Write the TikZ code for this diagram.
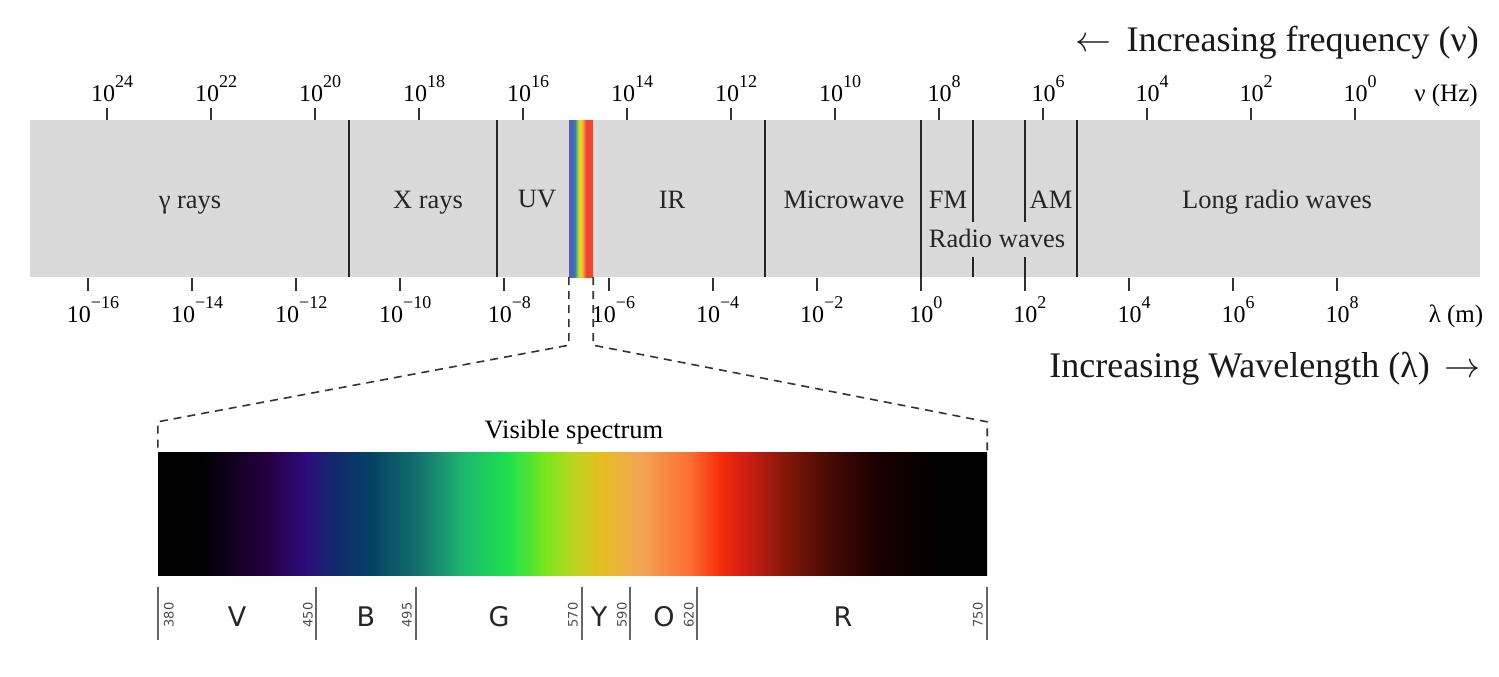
\documentclass[tikz,border=0pt]{standalone}
\usepackage{fix-cm}
\usepackage{fontspec}
\setmainfont{Liberation Serif}
\newfontfamily\visfont{DejaVu Sans}
\usepackage{tikz}
\usetikzlibrary{positioning}
\usepackage{xcolor}

\definecolor{bandgray}{RGB}{218,218,218}
% colours of the visible band
\definecolor{vsA}{RGB}{40,0,70}
\definecolor{vsB}{RGB}{45,12,125}
\definecolor{vsC}{RGB}{20,38,110}
\definecolor{vsD}{RGB}{5,65,100}
\definecolor{vsE}{RGB}{20,115,110}
\definecolor{vsF}{RGB}{30,185,110}
\definecolor{vsG}{RGB}{30,225,75}
\definecolor{vsH}{RGB}{120,230,30}
\definecolor{vsI}{RGB}{185,215,30}
\definecolor{vsJ}{RGB}{230,190,35}
\definecolor{vsK}{RGB}{242,165,85}
\definecolor{vsL}{RGB}{250,110,50}
\definecolor{vsM}{RGB}{245,45,10}
\definecolor{vsN}{RGB}{210,30,20}
\definecolor{vsO}{RGB}{140,25,10}
\definecolor{vsP}{RGB}{70,10,5}
\definecolor{vsQ}{RGB}{25,0,0}
% colours of the narrow strip
\definecolor{rbblue}{RGB}{85,95,180}
\definecolor{rbteal}{RGB}{40,140,170}
\definecolor{rbgreen}{RGB}{175,212,60}
\definecolor{rbyellow}{RGB}{245,215,50}
\definecolor{rborange}{RGB}{245,160,50}
\definecolor{rbred}{RGB}{235,70,50}

\pgfdeclarehorizontalshading{visible}{100bp}{%
  color(0bp)=(black); color(25bp)=(black); color(27.5bp)=(black);
  color(31.8bp)=(vsA); color(33.9bp)=(vsB); color(35.4bp)=(vsC);
  color(37.8bp)=(vsD); color(40.8bp)=(vsE); color(43.5bp)=(vsF);
  color(46.2bp)=(vsG); color(48.3bp)=(vsH); color(50bp)=(vsI);
  color(51.7bp)=(vsJ); color(54.1bp)=(vsK); color(57.1bp)=(vsL);
  color(58.9bp)=(vsM); color(60.4bp)=(vsN); color(62.5bp)=(vsO);
  color(65.5bp)=(vsP); color(68.5bp)=(vsQ); color(72.2bp)=(black);
  color(75bp)=(black); color(100bp)=(black)}
\pgfdeclarehorizontalshading{rainbow}{100bp}{%
  color(0bp)=(rbblue); color(25bp)=(rbblue); color(31bp)=(rbblue);
  color(37.5bp)=(rbteal); color(43.7bp)=(rbgreen); color(49bp)=(rbyellow);
  color(54.2bp)=(rborange); color(60.4bp)=(rbred); color(75bp)=(rbred);
  color(100bp)=(rbred)}

% power of ten
\newcommand{\pw}[1]{10\raisebox{0.55em}{\fontsize{18}{18}\selectfont #1}}

\tikzset{
  band/.style={fill=bandgray,inner sep=0pt,minimum width=1450pt,minimum height=157pt},
  divider/.style={line width=2pt,black!85},
  tickmark/.style={line width=2pt,black!80},
  toplab/.style={anchor=base,inner sep=0pt,font=\fontsize{25}{25}\selectfont},
  powlab/.style={anchor=base,inner sep=0pt,xshift=5pt,font=\fontsize{24}{24}\selectfont},
  bandlab/.style={anchor=base,inner sep=0pt,font=\fontsize{26.5}{28}\selectfont,text=black!85},
  headlab/.style={anchor=base east,inner sep=0pt,font=\fontsize{36}{38}\selectfont,text=black!90},
  zoomline/.style={dashed,dash pattern=on 8pt off 6pt,line width=1.6pt,black!80},
  vistick/.style={line width=1.3pt,black!60},
  visnum/.style={rotate=90,inner sep=0pt,font=\visfont\fontsize{13}{13}\selectfont,text=black!70},
  colourlab/.style={inner sep=0pt,font=\visfont\fontsize{27}{28}\selectfont,text=black!85}
}

\begin{document}
\begin{tikzpicture}[x=1pt,y=-1pt]
  \useasboundingbox (0,0) rectangle (1499,677);

  % the spectrum band
  \node[band] (em) at (755,198.5) {};
  \node[inner sep=0pt,minimum width=24pt,minimum height=157pt,shading=rainbow] (strip) at (581,198.5) {};

  \foreach \x in {349,497,765,1077}
    \draw[divider] (\x,120) -- (\x,277);
  \draw[divider] (921,120) -- (921,291);
  \draw[divider] (973,120) -- (973,222) (973,257) -- (973,277);
  \draw[divider] (1025,120) -- (1025,222) (1025,257) -- (1025,291);

  % frequency scale
  \foreach \e [count=\i from 0] in {24,22,...,0} {
    \draw[tickmark] (107+104*\i,108) -- (107+104*\i,120);
    \node[powlab] (nu\i) at (107+104*\i,101) {\pw{\e}};
  }
  \node[toplab] (nuunit) at (1446,101) {ν (Hz)};

  % wavelength scale
  \foreach \e [count=\i from 0] in {−16,−14,−12,−10,−8,−6,−4,−2,0,2,4,6,8} {
    \draw[tickmark] (88+104.1*\i,278) -- (88+104.1*\i,291);
    \node[powlab] (lam\i) at (88+104.1*\i,322) {\pw{\e}};
  }
  \node[toplab] (lamunit) at (1456,322) {λ (m)};

  \node[bandlab] (gamma) at (190,208) {γ rays};
  \node[bandlab] (xray) at (428,208) {X rays};
  \node[bandlab] (uv) at (537,207) {UV};
  \node[bandlab] (ir) at (672,208) {IR};
  \node[bandlab] (micro) at (844,208) {Microwave};
  \node[bandlab] (fm) at (948,208) {FM};
  \node[bandlab] (am) at (1051,208) {AM};
  \node[bandlab] (radio) at (997,247) {Radio waves};
  \node[bandlab] (long) at (1277,208) {Long radio waves};

  \node[headlab] (freq) at (1479,52) {$\leftarrow$\, Increasing frequency (ν)};
  \node[headlab] (wave) at (1481,377) {Increasing Wavelength (λ)\, $\rightarrow$};

  % visible part
  \node[inner sep=0pt,minimum width=829pt,minimum height=123pt,shading=visible] (vis) at (572.5,513.5) {};
  \node[toplab,font=\fontsize{26.5}{28}\selectfont] (vistitle) at (574,438) {Visible spectrum};

  \draw[zoomline] (strip.south west) -- ++(0,68) -- ([yshift=30pt]vis.north west) -- (vis.north west);
  \draw[zoomline] (strip.south east) -- ++(0,68) -- ([yshift=30pt]vis.north east) -- (vis.north east);

  \foreach \x in {158,316,416,582,630,697,987}
    \draw[vistick] (\x,587) -- (\x,640);
  \node[visnum] (n380) at (169,615) {380};
  \foreach \nm/\x in {450/308,495/407,570/573,590/622,620/689,750/978}
    \node[visnum] (n\nm) at (\x,615) {\nm};

  \node[colourlab] (cV) at (237,617) {V};
  \node[colourlab] (cB) at (366,617) {B};
  \node[colourlab] (cG) at (499,617) {G};
  \node[colourlab] (cY) at (599,617) {Y};
  \node[colourlab] (cO) at (664,617) {O};
  \node[colourlab] (cR) at (843,617) {R};
\end{tikzpicture}
\end{document}
